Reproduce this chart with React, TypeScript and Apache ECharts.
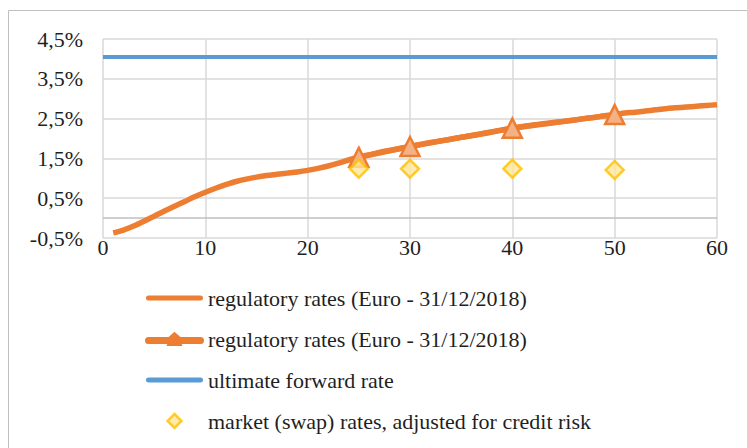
import React, { useEffect, useRef } from "react";
import * as echarts from "echarts";

const years = [
  1, 2, 3, 4, 5, 6, 7, 8, 9, 10, 11, 12, 13, 14, 15, 16, 17, 18, 19, 20,
  21, 22, 23, 24, 25, 26, 27, 28, 29, 30, 31, 32, 33, 34, 35, 36, 37, 38, 39, 40,
  41, 42, 43, 44, 45, 46, 47, 48, 49, 50, 51, 52, 53, 54, 55, 56, 57, 58, 59, 60,
];
const regulatoryRates = [
  -0.37, -0.3, -0.2, -0.08, 0.05, 0.18, 0.3, 0.42, 0.54, 0.65,
  0.75, 0.84, 0.92, 0.98, 1.03, 1.07, 1.1, 1.13, 1.16, 1.2,
  1.25, 1.31, 1.38, 1.46, 1.53, 1.59, 1.65, 1.7, 1.75, 1.8,
  1.85, 1.9, 1.94, 1.98, 2.03, 2.07, 2.11, 2.16, 2.21, 2.26,
  2.3, 2.34, 2.37, 2.4, 2.43, 2.46, 2.5, 2.53, 2.57, 2.6,
  2.64, 2.66, 2.69, 2.72, 2.75, 2.77, 2.79, 2.81, 2.83, 2.85,
];
const markerYears = [25, 30, 40, 50];
const markerRates = [1.53, 1.8, 2.26, 2.6];
const ufrYears = [0, 60];
const ufrRates = [4.05, 4.05];
const marketYears = [25, 30, 40, 50];
const marketRates = [1.24, 1.24, 1.24, 1.21];
const seriesNames = [
  "regulatory rates (Euro - 31/12/2018)",
  "regulatory rates (Euro - 31/12/2018) ",
  "ultimate forward rate",
  "market (swap) rates, adjusted for credit risk",
];
const xTicks = [0, 10, 20, 30, 40, 50, 60];
const yTicks = [-0.5, 0.5, 1.5, 2.5, 3.5, 4.5];

const FONT = "'Liberation Serif', 'DejaVu Serif', serif";
const ORANGE = "#ED7D31";
const BLUE = "#5B9BD5";
const GRID = "#d9d9d9";
const TEXT = "#1f1f1f";

const BAR_ICON = "path://M2.5,0 H54.5 A2.5,2.5 0 0 1 54.5,5 H2.5 A2.5,2.5 0 0 1 2.5,0 Z";
const TRI_ICON =
  "path://M2.5,5 H23 L28.5,0 L34,5 H54.5 A2.5,2.5 0 0 1 54.5,10 H34 L35,12 H22 L23,10 H2.5 A2.5,2.5 0 0 1 2.5,5 Z";
const DIAMOND_ICON = "path://M7,0 L14,7 L7,14 L0,7 Z";

const zip = (xs: number[], ys: number[]) => xs.map((x, i) => [x, ys[i]]);

export default function App() {
  const ref = useRef<HTMLDivElement>(null);
  useEffect(() => {
    if (!ref.current) return;
    const chart = echarts.init(ref.current, undefined, { renderer: "svg" });
    chart.setOption({
      animation: false,
      backgroundColor: "#ffffff",
      textStyle: { fontFamily: FONT },
      graphic: [
        {
          type: "rect",
          shape: { x: 8.5, y: 10.5, width: 800, height: 500 },
          style: { fill: "none", stroke: "#bfbfbf", lineWidth: 1 },
          silent: true,
          z: -10,
        },
      ],
      grid: { left: 103, right: 30, top: 39, bottom: 210 },
      xAxis: {
        type: "value",
        min: xTicks[0],
        max: xTicks[xTicks.length - 1],
        interval: 10,
        axisLine: { show: false },
        axisTick: { show: false },
        splitLine: { show: true, lineStyle: { color: GRID, width: 1.5 } },
        axisLabel: {
          fontFamily: FONT,
          fontSize: 22,
          color: TEXT,
          margin: -2,
        },
      },
      yAxis: {
        type: "value",
        min: yTicks[0],
        max: yTicks[yTicks.length - 1],
        interval: 1,
        axisLine: { show: false },
        axisTick: { show: false },
        splitLine: { show: true, lineStyle: { color: GRID, width: 1.5 } },
        axisLabel: {
          fontFamily: FONT,
          fontSize: 22,
          color: TEXT,
          margin: 20,
          formatter: (v: number) => v.toFixed(1).replace(".", ",") + "%",
        },
      },
      legend: {
        orient: "vertical",
        left: 145,
        top: 287,
        padding: 0,
        itemWidth: 57,
        itemHeight: 14,
        itemGap: 19,
        symbolKeepAspect: true,
        formatter: (n: string) => n.trim(),
        textStyle: { fontFamily: FONT, fontSize: 22, color: TEXT },
        data: [
          { name: seriesNames[0], icon: BAR_ICON, itemStyle: { color: ORANGE } },
          { name: seriesNames[1], icon: TRI_ICON, itemStyle: { color: ORANGE } },
          { name: seriesNames[2], icon: BAR_ICON, itemStyle: { color: BLUE } },
          {
            name: seriesNames[3],
            icon: DIAMOND_ICON,
            itemStyle: { color: "#FFE699", borderColor: "#FFC000", borderWidth: 2.5 },
          },
        ],
      },
      series: [
        {
          name: seriesNames[0],
          type: "line",
          data: zip(years, regulatoryRates),
          showSymbol: false,
          symbol: "none",
          smooth: 0.3,
          lineStyle: { color: ORANGE, width: 5.5 },
          itemStyle: { color: ORANGE },
          z: 3,
          markLine: {
            silent: true,
            symbol: "none",
            label: { show: false },
            lineStyle: { color: "#bfbfbf", width: 1.5, type: "solid" },
            data: [{ yAxis: 0 }],
            z: 1,
          },
        },
        {
          name: seriesNames[1],
          type: "line",
          data: zip(markerYears, markerRates),
          symbol: "triangle",
          symbolSize: 19,
          lineStyle: { color: ORANGE, width: 5.5 },
          itemStyle: { color: "#F4B183", borderColor: ORANGE, borderWidth: 2.5 },
          z: 4,
        },
        {
          name: seriesNames[2],
          type: "line",
          data: zip(ufrYears, ufrRates),
          showSymbol: false,
          symbol: "none",
          lineStyle: { color: BLUE, width: 4 },
          itemStyle: { color: BLUE },
          z: 3,
        },
        {
          name: seriesNames[3],
          type: "scatter",
          data: zip(marketYears, marketRates),
          symbol: "diamond",
          symbolSize: 18,
          itemStyle: { color: "#FFE699", borderColor: "#FFC000", borderWidth: 2.5 },
          z: 5,
        },
      ],
    });
    return () => chart.dispose();
  }, []);
  return (
    <div
      ref={ref}
      style={{ position: "fixed", left: 0, top: 0, width: 747, height: 448 }}
    />
  );
}
